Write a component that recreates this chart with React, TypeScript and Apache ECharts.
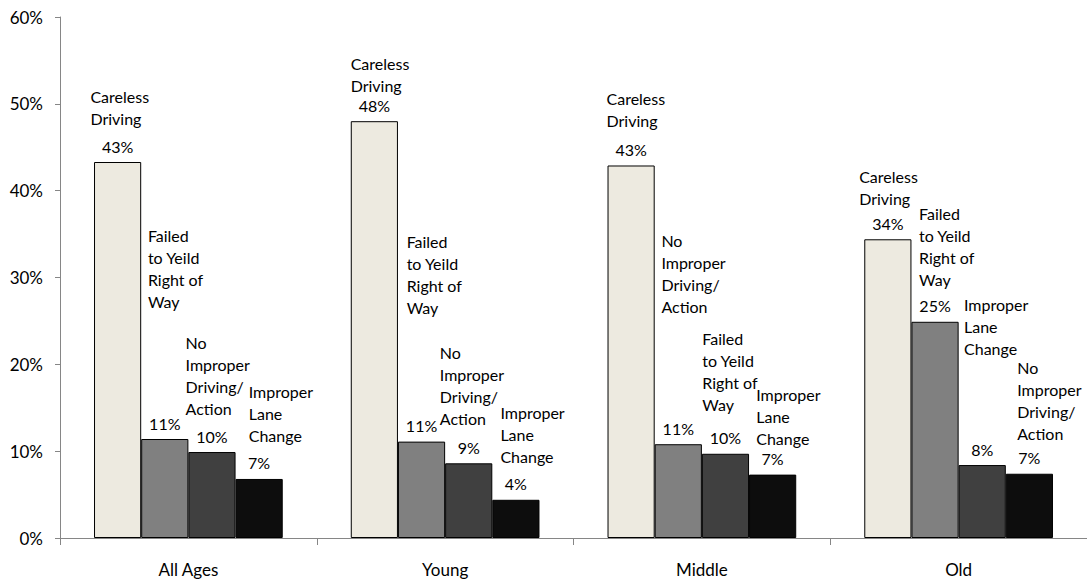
import React, { useEffect, useRef } from "react";
import * as echarts from "echarts";

const categories = ["All Ages", "Young", "Middle", "Old"];
const yTicks = [0, 10, 20, 30, 40, 50, 60];

const FYRW = "Failed\nto Yeild\nRight of\nWay";
const NIDA = "No\nImproper\nDriving/\nAction";
const ILC = "Improper\nLane\nChange";
const CD = "Careless\nDriving";

// rank 1..4 bar values (%) per category
const rank1Values = [43.3, 48.0, 42.9, 34.4];
const rank2Values = [11.4, 11.1, 10.8, 24.9];
const rank3Values = [9.9, 8.6, 9.7, 8.4];
const rank4Values = [6.8, 4.4, 7.3, 7.4];

// cause names per rank and category
const rank1Names = [CD, CD, CD, CD];
const rank2Names = [FYRW, FYRW, NIDA, FYRW];
const rank3Names = [NIDA, NIDA, FYRW, ILC];
const rank4Names = [ILC, ILC, ILC, NIDA];

const rankColors = ["#EDEAE0", "#808080", "#404040", "#0D0D0D"];

// label placement (px offset from bar top-centre), layout only
const nameOffsets = [
  [[-27.2, -76.3], [-23.7, -69], [-24.6, -78.4], [-28.7, -74]],
  [[-16.9, -214.7], [-14.9, -211.6], [-16.9, -214.3], [-16.0, -119.4]],
  [[-26.4, -121], [-28.9, -121.6], [-23.1, -126], [-18.2, -172]],
  [[-10.4, -98.3], [-15.5, -98.7], [-16.4, -91], [-12.2, -117]],
];

const FONT = "Lato";

export default function App() {
  const ref = useRef<HTMLDivElement>(null);
  useEffect(() => {
    if (!ref.current) return;
    const chart = echarts.init(ref.current, null, { renderer: "svg" });
    const values = [rank1Values, rank2Values, rank3Values, rank4Values];
    const names = [rank1Names, rank2Names, rank3Names, rank4Names];
    const series: any[] = [];
    values.forEach((vals, r) => {
      series.push({
        type: "bar",
        name: "rank" + (r + 1),
        stack: "s" + r,
        data: vals,
        barGap: "0%",
        barCategoryGap: "26.5%",
        itemStyle: { color: rankColors[r], borderColor: "#000", borderWidth: 1 },
        label: {
          show: true,
          position: "top",
          distance: 7,
          color: "#000",
          fontFamily: FONT,
          fontSize: 16,
          lineHeight: 18,
          formatter: (p: any) => Math.round(p.value) + "%",
        },
      });
      series.push({
        type: "bar",
        name: "names" + (r + 1),
        stack: "s" + r,
        barGap: "0%",
        barCategoryGap: "26.5%",
        data: names[r].map((_, i) => ({
          value: 0,
          label: { offset: nameOffsets[r][i] },
        })),
        itemStyle: { color: "transparent", borderWidth: 0 },
        label: {
          show: true,
          position: "top",
          distance: 0,
          align: "left",
          verticalAlign: "top",
          color: "#000",
          fontFamily: FONT,
          fontSize: 16,
          lineHeight: 22,
          formatter: (p: any) => names[r][p.dataIndex],
        },
      });
    });
    chart.setOption({
      animation: false,
      backgroundColor: "#fff",
      grid: { left: 60, right: -3, top: 17, bottom: 44, containLabel: false },
      xAxis: {
        type: "category",
        data: categories,
        axisLine: { lineStyle: { color: "#868686", width: 1 } },
        axisTick: { show: true, length: 7, lineStyle: { color: "#868686" } },
        axisLabel: { color: "#000", fontFamily: FONT, fontSize: 17, margin: 23 },
      },
      yAxis: {
        type: "value",
        min: yTicks[0],
        max: yTicks[yTicks.length - 1],
        interval: 10,
        splitLine: { show: false },
        axisLine: { show: true, lineStyle: { color: "#868686", width: 1 } },
        axisTick: { show: true, length: 5, lineStyle: { color: "#868686" } },
        axisLabel: {
          color: "#000",
          fontFamily: FONT,
          fontSize: 17,
          margin: 17,
          formatter: "{value}%",
        },
      },
      series,
    });
    return () => chart.dispose();
  }, []);
  return (
    <div
      ref={ref}
      style={{ position: "fixed", left: 0, top: 0, width: 1087, height: 582 }}
    />
  );
}
